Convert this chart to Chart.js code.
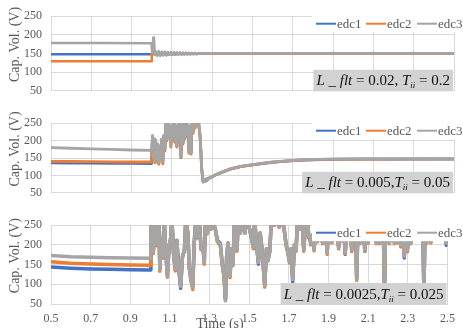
<!DOCTYPE html>
<html>
<head>
<meta charset="utf-8">
<script src="https://cdn.jsdelivr.net/npm/chart.js@4.4.1/dist/chart.umd.min.js"></script>
<style>
  html, body { margin: 0; padding: 0; background: #ffffff; }
  #wrap { position: relative; width: 463px; height: 328px; overflow: hidden; background: #ffffff; }
  #wrap canvas { position: absolute; left: 0; }
</style>
</head>
<body>
<div id="wrap">
  <canvas id="p1" width="463" height="107" style="top:0px"></canvas>
  <canvas id="p2" width="463" height="102" style="top:107px"></canvas>
  <canvas id="p3" width="463" height="119" style="top:209px"></canvas>
</div>
<script>
// ---- series names and axis ticks ----
const seriesNames = ['edc1', 'edc2', 'edc3'];
const xTickValues = [0.5, 0.7, 0.9, 1.1, 1.3, 1.5, 1.7, 1.9, 2.1, 2.3, 2.5];
const yTickValues = [50, 100, 150, 200, 250];

// ---- panel 1 : L_flt = 0.02, Tii = 0.2 ----
const time1 = [0.5, 0.75, 0.999, 1.0, 1.003, 1.008, 1.011, 1.015, 1.02, 1.027,
  1.035, 1.042, 1.05, 1.057, 1.065, 1.072, 1.08, 1.087, 1.095, 1.102,
  1.11, 1.117, 1.125, 1.132, 1.14, 1.147, 1.155, 1.162, 1.17, 1.177,
  1.185, 1.192, 1.2, 1.207, 1.215, 1.222, 1.23, 1.237, 1.245, 1.252,
  1.26, 1.3, 1.6, 2.0, 2.5];
const edc1_p1 = [148, 148, 148, 148, 150, 152, 151, 147, 154, 145,
  154, 145, 153, 146, 153, 146, 152.5, 146.5, 152.5, 146.5,
  152, 147, 151.5, 147.5, 151.5, 147.5, 151, 148, 151, 148,
  150.5, 148, 150.5, 148.5, 150.5, 148.5, 150, 149, 150, 149,
  149.5, 149.5, 149.5, 149.5, 149.5];
const edc2_p1 = [129.5, 129.5, 129.5, 148, 150, 152, 151, 147, 154, 145,
  154, 145, 153, 146, 153, 146, 152.5, 146.5, 152.5, 146.5,
  152, 147, 151.5, 147.5, 151.5, 147.5, 151, 148, 151, 148,
  150.5, 148, 150.5, 148.5, 150.5, 148.5, 150, 149, 150, 149,
  149.5, 149.5, 149.5, 149.5, 149.5];
const edc3_p1 = [178, 178, 177.5, 165, 152, 193, 190, 146, 156, 144,
  156, 144, 155, 145, 155, 145, 154, 146, 154, 146,
  153.5, 146.5, 153, 147, 153, 147, 152.5, 147.5, 152, 148,
  152, 148, 151.5, 148.5, 151.5, 148.5, 151, 149, 151, 149,
  150.5, 150, 150, 150, 150];

// ---- panel 2 : L_flt = 0.005, Tii = 0.05 ----
const time2 = [0.5, 0.6, 0.7, 0.8, 0.9, 0.999,
  1.000, 1.004, 1.008, 1.012, 1.016, 1.020, 1.025, 1.030, 1.035, 1.040,
  1.045, 1.050, 1.055, 1.060, 1.065, 1.070, 1.075, 1.080, 1.085, 1.090,
  1.095, 1.100, 1.105, 1.110, 1.115, 1.120, 1.125, 1.130, 1.135, 1.140,
  1.145, 1.150, 1.155, 1.160, 1.165, 1.170, 1.175, 1.180, 1.185, 1.190,
  1.195, 1.200, 1.205, 1.210, 1.215, 1.220, 1.225, 1.230, 1.240, 1.248,
  1.255, 1.260, 1.265, 1.270, 1.275, 1.280, 1.290, 1.300, 1.320, 1.350,
  1.390, 1.440, 1.500, 1.550, 1.600, 1.650, 1.720, 1.800, 1.900, 2.000, 2.500];
const edc1_p2 = [136, 135.5, 135, 134.5, 134.5, 134,
  134, 212, 148, 203, 138, 196, 142, 188, 134, 183,
  148, 203, 137, 214, 172, 246, 202, 254, 212, 240,
  188, 244, 204, 257, 197, 239, 183, 245, 202, 260,
  151, 234, 193, 254, 208, 264, 213, 244, 166, 238,
  163, 253, 223, 264, 238, 260, 248, 264, 212, 118,
  81, 87, 83, 89, 86, 91, 93, 96, 102, 109,
  118, 125, 130, 134, 137.5, 140, 143, 145, 146, 146.5, 147];
const edc2_p2 = [140.5, 140, 139.5, 139, 138.5, 138.5,
  138.5, 210, 146, 200, 136, 195, 140, 187, 132, 182,
  147, 202, 133, 212, 170, 244, 200, 252, 210, 238,
  181, 242, 206, 255, 195, 237, 181, 243, 200, 259,
  152, 232, 190, 253, 206, 263, 211, 242, 164, 236,
  161, 252, 221, 263, 236, 259, 246, 263, 210, 116,
  81.5, 87.5, 83.5, 89.5, 86.5, 91.5, 93.5, 96.5, 102.5, 109.5,
  118.5, 125.5, 130.5, 134.5, 138, 140.5, 143.5, 145.5, 146.5, 147, 147.5];
const edc3_p2 = [180, 178, 176, 174.5, 173, 172,
  172, 215, 150, 205, 140, 198, 145, 190, 136, 185,
  150, 205, 140, 215, 175, 248, 205, 255, 215, 242,
  186, 245, 210, 258, 200, 240, 185, 246, 205, 262,
  155, 236, 195, 256, 210, 266, 215, 246, 168, 240,
  165, 255, 225, 266, 240, 262, 250, 266, 215, 120,
  82, 88, 84, 90, 87, 92, 94, 97, 103, 110,
  119, 126, 131, 135, 138.5, 141, 144, 146, 147, 147.5, 148];

// ---- panel 3 : L_flt = 0.0025, Tii = 0.025 ----
const time3 = [0.5, 0.6, 0.7, 0.8, 0.9, 0.999,
  1.001, 1.004, 1.011, 1.016, 1.024, 1.033, 1.038, 1.044, 1.049, 1.056,
  1.063, 1.071, 1.078, 1.087, 1.096, 1.104, 1.110, 1.118, 1.127, 1.135,
  1.143, 1.154, 1.163, 1.173, 1.180, 1.190, 1.198, 1.206, 1.215, 1.222,
  1.230, 1.239, 1.248, 1.257, 1.266, 1.273, 1.279, 1.289, 1.298, 1.306,
  1.314, 1.329, 1.339, 1.354, 1.364, 1.373, 1.380, 1.386, 1.393, 1.398,
  1.403, 1.411, 1.418, 1.426, 1.433, 1.438, 1.445, 1.455, 1.463, 1.478,
  1.488, 1.502, 1.512, 1.521, 1.527, 1.537, 1.546, 1.555, 1.562, 1.570,
  1.578, 1.587, 1.594, 1.603, 1.612, 1.627, 1.636, 1.651, 1.666, 1.676,
  1.686, 1.695, 1.703, 1.711, 1.719, 1.728, 1.736, 1.744, 1.756, 1.766,
  1.775, 1.783, 1.794, 1.800, 1.806, 1.810, 1.815, 1.822, 1.827, 1.832,
  1.841, 1.845, 1.850, 1.864, 1.870, 1.875, 1.887, 1.893, 1.898, 1.911,
  1.917, 1.922, 1.945, 1.951, 1.956, 1.964, 1.969, 1.974, 1.979, 1.984,
  1.989, 2.012, 2.017, 2.022, 2.037, 2.042, 2.047, 2.053, 2.058, 2.063,
  2.078, 2.083, 2.088, 2.095, 2.100, 2.105, 2.136, 2.141, 2.146, 2.153,
  2.158, 2.163, 2.177, 2.182, 2.187, 2.202, 2.207, 2.212, 2.227, 2.232,
  2.237, 2.243, 2.248, 2.253, 2.260, 2.265, 2.270, 2.277, 2.282, 2.287,
  2.293, 2.298, 2.303, 2.310, 2.315, 2.320, 2.376, 2.381, 2.386, 2.391,
  2.396, 2.401, 2.411, 2.416, 2.421, 2.489, 2.494, 2.5];
const edc1_p3 = [144, 141, 139, 138, 137, 136.5,
  136.5, 265, 265, 184, 250, 204, 265, 265, 140, 212,
  172, 265, 188, 124, 196, 219, 265, 178, 136, 212,
  146, 90, 168, 188, 265, 230, 142, 110, 95, 200,
  265, 218, 265, 190, 200, 157, 265, 232, 265, 240,
  265, 240, 212, 204, 152, 122, 60, 170, 205, 162,
  125, 190, 152, 265, 240, 189, 265, 230, 265, 230,
  265, 240, 215, 196, 265, 200, 151, 230, 200, 152,
  99, 190, 160, 184, 265, 250, 265, 245, 265, 240,
  200, 182, 159, 190, 107, 200, 189, 265, 240, 265,
  189, 250, 265, 218, 221, 204, 221, 221, 189, 221,
  221, 212, 221, 221, 207, 221, 221, 182, 221, 221,
  209, 221, 221, 195, 221, 221, 214, 221, 221, 176,
  221, 221, 189, 221, 221, 115, 221, 221, 207, 221,
  221, 184, 221, 221, 208, 221, 221, 207, 221, 221,
  207, 221, 221, 77, 221, 221, 207, 221, 221, 207,
  221, 221, 209, 221, 221, 197, 221, 221, 167, 221,
  221, 189, 221, 221, 207, 221, 221, 85, 221, 221,
  209, 221, 221, 209, 221, 221, 199, 221];
const edc2_p3 = [157, 153.5, 151.5, 150, 149, 148.5,
  148.5, 265, 265, 178, 250, 198, 265, 265, 133, 215,
  166, 265, 192, 118, 200, 214, 265, 182, 134, 210,
  148, 99, 172, 183, 265, 230, 138, 112, 87, 200,
  265, 222, 265, 188, 200, 151, 265, 228, 265, 240,
  265, 240, 208, 198, 148, 118, 62, 170, 205, 158,
  117, 190, 148, 265, 240, 184, 265, 230, 265, 230,
  265, 240, 215, 190, 265, 200, 157, 230, 200, 148,
  93, 190, 160, 180, 265, 250, 265, 245, 265, 240,
  200, 178, 154, 190, 114, 200, 184, 265, 240, 265,
  184, 250, 265, 220, 223, 200, 223, 223, 185, 223,
  223, 208, 223, 223, 203, 223, 223, 176, 223, 223,
  205, 223, 223, 190, 223, 223, 210, 223, 223, 178,
  223, 223, 183, 223, 223, 110, 223, 223, 203, 223,
  223, 185, 223, 223, 204, 223, 223, 203, 223, 223,
  203, 223, 223, 78, 223, 223, 203, 223, 223, 203,
  223, 223, 205, 223, 223, 195, 223, 223, 172, 223,
  223, 183, 223, 223, 203, 223, 223, 86, 223, 223,
  205, 223, 223, 205, 223, 223, 206, 223];
const edc3_p3 = [173, 170, 168.5, 167.5, 166.5, 166,
  166, 265, 265, 182, 250, 202, 265, 265, 138, 215,
  170, 265, 190, 122, 200, 217, 265, 180, 138, 210,
  150, 95, 170, 186, 265, 230, 140, 114, 92, 200,
  265, 220, 265, 190, 200, 155, 265, 230, 265, 240,
  265, 240, 210, 202, 150, 120, 58, 170, 205, 160,
  122, 190, 150, 265, 240, 187, 265, 230, 265, 230,
  265, 240, 215, 194, 265, 200, 155, 230, 200, 150,
  97, 190, 160, 182, 265, 250, 265, 245, 265, 240,
  200, 180, 157, 190, 112, 200, 187, 265, 240, 265,
  187, 250, 265, 222, 225, 203, 225, 225, 187, 225,
  225, 210, 225, 225, 205, 225, 225, 180, 225, 225,
  207, 225, 225, 193, 225, 225, 212, 225, 225, 180,
  225, 225, 187, 225, 225, 113, 225, 225, 205, 225,
  225, 187, 225, 225, 206, 225, 225, 205, 225, 225,
  205, 225, 225, 75, 225, 225, 205, 225, 225, 205,
  225, 225, 207, 225, 225, 199, 225, 225, 172, 225,
  225, 187, 225, 225, 205, 225, 225, 83, 225, 225,
  207, 225, 225, 207, 225, 225, 205, 225];

// ---- parameter boxes (italic / normal / subscript pieces) ----
const note1 = [['L _ flt', 'i'], [' = 0.02, ', 'n'], ['T', 'i'], ['ii', 's'], [' = 0.2', 'n']];
const note2 = [['L _ flt', 'i'], [' = 0.005,', 'n'], ['T', 'i'], ['ii', 's'], [' = 0.05', 'n']];
const note3 = [['L _ flt', 'i'], [' = 0.0025,', 'n'], ['T', 'i'], ['ii', 's'], [' = 0.025', 'n']];

// ---- styling ----
const SERIF = "'Liberation Serif', 'Times New Roman', serif";
const GRID = '#d9d9d9';
const TEXT = '#595959';
const COLORS = ['#4472C4', '#ED7D31', '#A5A5A5'];
const LEGEND_X = [316, 366, 417];

function fontFor(kind) {
  if (kind === 'i') return 'italic 15px ' + SERIF;
  if (kind === 's') return 'italic 9px ' + SERIF;
  return '15px ' + SERIF;
}

function decorPlugin(note, showXTitle) {
  return {
    id: 'panelDecor',
    afterDatasetsDraw(chart) {
      const ctx = chart.ctx;
      const a = chart.chartArea;
      ctx.save();
      // legend strip in the upper right corner of the plot
      ctx.fillStyle = '#ffffff';
      ctx.fillRect(312, a.top - 1, chart.width - 312, 17);
      const ly = a.top + 7.5;
      ctx.font = '13px ' + SERIF;
      ctx.textAlign = 'left';
      ctx.textBaseline = 'middle';
      LEGEND_X.forEach((lx, i) => {
        ctx.strokeStyle = COLORS[i];
        ctx.lineWidth = 2;
        ctx.beginPath();
        ctx.moveTo(lx, ly);
        ctx.lineTo(lx + 20, ly);
        ctx.stroke();
        ctx.fillStyle = TEXT;
        ctx.fillText(seriesNames[i], lx + 21, ly + 0.5);
      });

      // parameter box in the lower right corner
      let w = 0;
      note.forEach(([t, k]) => { ctx.font = fontFor(k); w += ctx.measureText(t).width; });
      const right = a.right - 1;
      const left = right - w - 6;
      const h = 21;
      ctx.fillStyle = '#d2d2d2';
      ctx.fillRect(left, a.bottom - h, right - left, h + 0.5);
      let x = left + 3;
      const base = a.bottom - h / 2 + 5;
      ctx.textBaseline = 'alphabetic';
      ctx.fillStyle = '#111111';
      note.forEach(([t, k]) => {
        ctx.font = fontFor(k);
        ctx.fillText(t, x, k === 's' ? base + 3 : base);
        x += ctx.measureText(t).width;
      });
      ctx.restore();
    },
    afterDraw(chart) {
      const ctx = chart.ctx;
      const a = chart.chartArea;
      ctx.save();
      ctx.fillStyle = TEXT;
      ctx.font = '14px ' + SERIF;
      ctx.textAlign = 'center';
      ctx.textBaseline = 'middle';
      ctx.translate(15, (a.top + a.bottom) / 2 - 9);
      ctx.rotate(-Math.PI / 2);
      ctx.fillText('Cap. Vol. (V)', 0, 0);
      ctx.restore();
      if (showXTitle) {
        ctx.save();
        ctx.fillStyle = TEXT;
        ctx.font = '14px ' + SERIF;
        ctx.textAlign = 'center';
        ctx.textBaseline = 'middle';
        ctx.fillText('Time (s)', 220, chart.height - 4);
        ctx.restore();
      }
    }
  };
}

function makePanel(id, times, s1, s2, s3, note, o) {
  const series = [s1, s2, s3];
  const datasets = series.map((vals, i) => ({
    label: seriesNames[i],
    data: times.map((t, k) => ({ x: t, y: vals[k] })),
    borderColor: COLORS[i],
    backgroundColor: COLORS[i],
    borderWidth: o.lineWidth,
    pointRadius: 0,
    tension: 0,
    borderJoinStyle: 'round',
    order: 3 - i
  }));
  return new Chart(document.getElementById(id), {
    type: 'line',
    data: { datasets },
    options: {
      responsive: false,
      animation: false,
      events: [],
      layout: { padding: { left: 0, right: 9, top: o.padTop, bottom: o.padBottom } },
      plugins: { legend: { display: false }, tooltip: { enabled: false } },
      scales: {
        x: {
          type: 'linear',
          min: 0.5,
          max: 2.5,
          afterBuildTicks: s => { s.ticks = xTickValues.map(v => ({ value: v })); },
          afterFit: s => { s.height = o.showX ? 24 : 0; },
          ticks: {
            display: o.showX,
            autoSkip: false,
            maxRotation: 0,
            padding: 8,
            color: TEXT,
            font: { family: SERIF, size: 12 },
            callback: v => Number(v).toFixed(1)
          },
          grid: { color: GRID, lineWidth: 1, drawTicks: false },
          border: { color: GRID }
        },
        y: {
          min: 50,
          max: 250,
          afterBuildTicks: s => { s.ticks = yTickValues.map(v => ({ value: v })); },
          afterFit: s => { s.width = 51; },
          ticks: {
            padding: 9,
            color: TEXT,
            font: { family: SERIF, size: 12 }
          },
          grid: { color: GRID, lineWidth: 1, drawTicks: false },
          border: { color: GRID }
        }
      }
    },
    plugins: [decorPlugin(note, o.showX)]
  });
}

makePanel('p1', time1, edc1_p1, edc2_p1, edc3_p1, note1, { padTop: 13, padBottom: 8, showX: false, lineWidth: 2.5 });
makePanel('p2', time2, edc1_p2, edc2_p2, edc3_p2, note2, { padTop: 8, padBottom: 9, showX: false, lineWidth: 2.8 });
makePanel('p3', time3, edc1_p3, edc2_p3, edc3_p3, note3, { padTop: 9, padBottom: 0, showX: true, lineWidth: 3.5 });
</script>
</body>
</html>
